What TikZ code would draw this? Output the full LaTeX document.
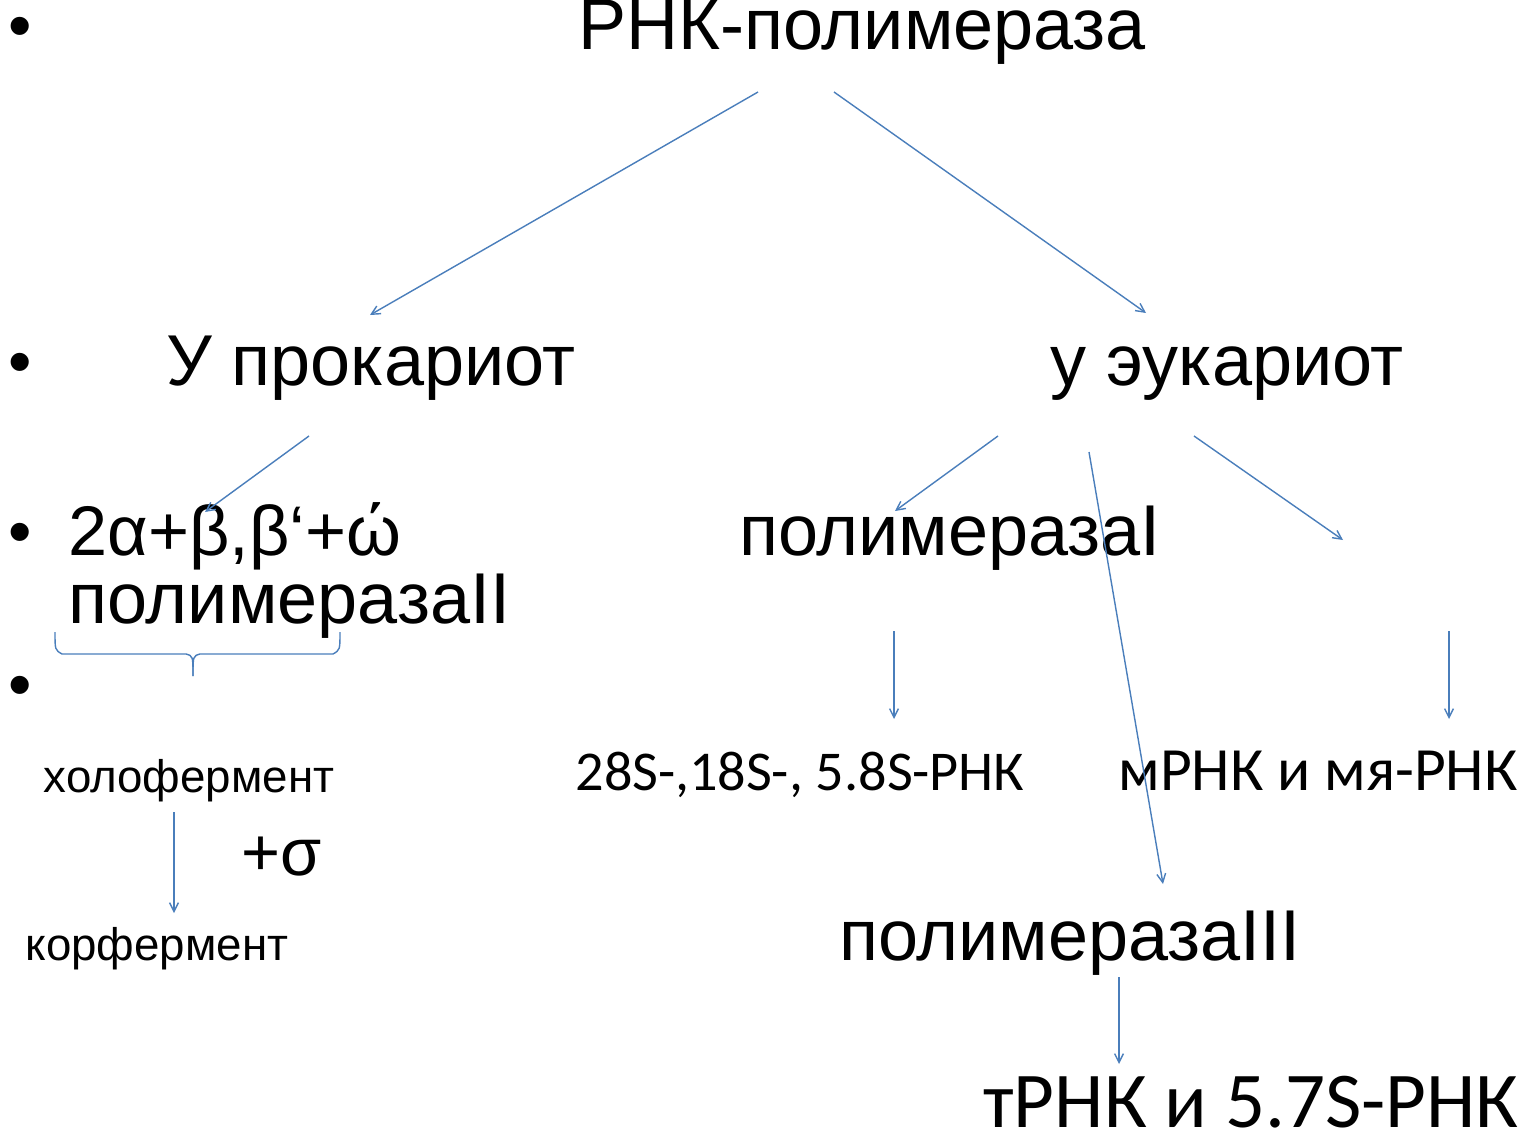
\documentclass[tikz,border=0pt]{standalone}
\usepackage{fontspec}
\setmainfont{Liberation Sans}
\newfontfamily\calibrifont{Carlito}
\usetikzlibrary{arrows.meta}
\definecolor{lineblue}{HTML}{4A7EBB}
\tikzset{
  conn/.style={draw=lineblue, line width=0.8pt, -{Straight Barb[length=5pt,width=5pt]}},
  bigtext/.style={font=\fontsize{41}{47}\selectfont, inner sep=0pt, anchor=base},
  smalltext/.style={font=\fontsize{26}{30}\selectfont, inner sep=0pt, anchor=base},
  rnatext/.style={font=\calibrifont\fontsize{32}{37}\selectfont, inner sep=0pt, anchor=base},
  trnatext/.style={font=\calibrifont\fontsize{45}{52}\selectfont, inner sep=0pt, anchor=base},
  bullet/.style={font=\fontsize{38}{44}\selectfont, inner sep=0pt, anchor=base}
}
\begin{document}
\begin{tikzpicture}[x=0.02cm,y=-0.02cm]
\useasboundingbox (0,0) rectangle (1528,1135);%

% Marking bullets
\node[bullet] (b1) at (20,49) {•};%
\node[bullet] (b2) at (20,384) {•};%
\node[bullet] (b3) at (20,554) {•};%
\node[bullet] (b4) at (20,707) {•};%

% Marking title and the two branches
\node[bigtext] (rnap) at (862,50) {РНК-полимераза};%
\node[bigtext] (prok) at (371,385) {У прокариот};%
\node[bigtext] (euk) at (1227,385) {у эукариот};%

% Marking prokaryote side
\node[bigtext, font=\fontsize{40}{46}\selectfont, anchor=base west] (subunits) at (68,555) {2α+β,β‘+ώ};%
\node[bigtext, anchor=base west] (polII) at (68,623) {полимеразаII};%
\node[smalltext] (holo) at (189,792) {холофермент};%
\node[bigtext, font=\fontsize{38}{44}\selectfont] (sigma) at (282,875) {+σ};%
\node[smalltext] (kor) at (157,960) {корфермент};%

% Marking eukaryote side
\node[bigtext] (polI) at (950,555) {полимеразаI};%
\node[rnatext] (rrna) at (800,790) {28S-,18S-, 5.8S-РНК};%
\node[rnatext, font=\calibrifont\fontsize{35}{40}\selectfont] (mrna) at (1318,790) {мРНК и мя-РНК};%
\node[bigtext] (polIII) at (1070,960) {полимеразаIII};%
\node[trnatext] (trna) at (1251,1127) {тРНК и 5.7S-РНК};%

% Arrow ends
\coordinate (r1) at (758,92);
\coordinate (r2) at (834,92);
\coordinate (p1) at (370,315);
\coordinate (e1) at (1146,313);
\coordinate (p2) at (309,436);
\coordinate (s1) at (205,512);
\coordinate (e2) at (998,436);
\coordinate (i1) at (895,511);
\coordinate (e3) at (1089,452);
\coordinate (t1) at (1163,884);
\coordinate (e4) at (1194,436);
\coordinate (m1) at (1343,540);
\coordinate (i2) at (894,631);
\coordinate (i3) at (894,719);
\coordinate (m2) at (1449,631);
\coordinate (m3) at (1449,719);
\coordinate (h1) at (174,812);
\coordinate (h2) at (174,913);
\coordinate (t2) at (1119,977);
\coordinate (t3) at (1119,1064);

% Drawing arrows
\draw[conn] (r1) -- (p1);%
\draw[conn] (r2) -- (e1);%
\draw[conn] (p2) -- (s1);%
\draw[conn] (e2) -- (i1);%
\draw[conn] (e3) -- (t1);%
\draw[conn] (e4) -- (m1);%
\draw[conn] (i2) -- (i3);%
\draw[conn] (m2) -- (m3);%
\draw[conn] (h1) -- (h2);%
\draw[conn] (t2) -- (t3);%

% Drawing brace under the subunits
\draw[lineblue, line width=0.8pt] (55,632) .. controls (55,650) .. (62,654) -- (186,654) .. controls (193,656) .. (193,676);%
\draw[lineblue, line width=0.8pt] (340,632) .. controls (340,650) .. (333,654) -- (200,654) .. controls (193,656) .. (193,676);%
\end{tikzpicture}
\end{document}
